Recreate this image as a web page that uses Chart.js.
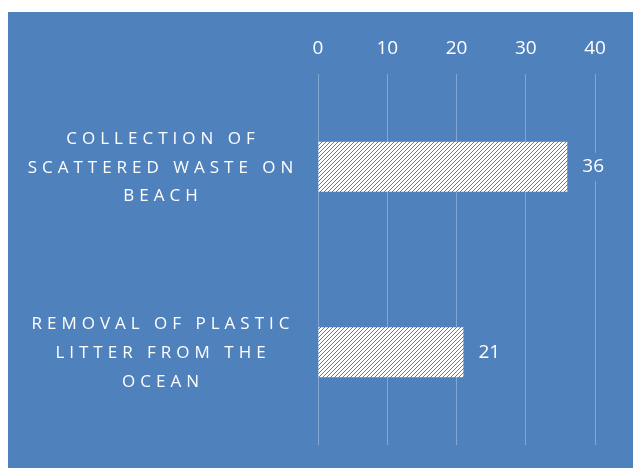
<!DOCTYPE html>
<html>
<head>
<meta charset="utf-8">
<script src="https://cdn.jsdelivr.net/npm/chart.js@4.4.1/dist/chart.umd.min.js"></script>
<style>
  html, body { margin: 0; padding: 0; background: #fff; width: 633px; height: 468px; overflow: hidden; }
  #wrap { position: absolute; left: 8px; top: 12px; width: 625px; height: 456px; background: #4f81bd; }
  canvas { display: block; }
</style>
</head>
<body>
<div id="wrap"><canvas id="chart" width="625" height="456"></canvas></div>
<script>
const categories = [
  ['COLLECTION OF', 'SCATTERED WASTE ON', 'BEACH'],
  ['REMOVAL OF PLASTIC', 'LITTER FROM THE', 'OCEAN']
];
const values = [36, 21];
const axisMin = 0;
const axisMax = 40;
const axisStep = 10;

const BLUE = '#4f81bd';
const FONT = "'Open Sans', sans-serif";

// small diagonal hatch tile, white with thin blue stripes
function hatch() {
  const c = document.createElement('canvas');
  c.width = 4; c.height = 4;
  const g = c.getContext('2d');
  g.fillStyle = '#ffffff';
  g.fillRect(0, 0, 4, 4);
  g.fillStyle = BLUE;
  for (let i = 0; i < 4; i++) g.fillRect(i, 3 - i, 1, 1);
  return g.createPattern(c, 'repeat');
}

// category axis: labels centred in the axis box, letters spaced out
class SpacedCategoryScale extends Chart.CategoryScale {
  _computeLabelItems(area) {
    const items = super._computeLabelItems(area);
    const cx = (this.left + this.right) / 2;
    items.forEach(it => {
      it.options.textAlign = 'center';
      it.options.translation = [cx, it.options.translation[1] + 1];
    });
    return items;
  }
  drawLabels(area) {
    const ctx = this.ctx;
    ctx.save();
    ctx.letterSpacing = '5px';
    super.drawLabels(area);
    ctx.restore();
  }
}
SpacedCategoryScale.id = 'spacedCategory';
SpacedCategoryScale.defaults = Chart.CategoryScale.defaults;
Chart.register(SpacedCategoryScale);

const valueLabels = {
  id: 'valueLabels',
  afterDatasetsDraw(chart) {
    const ctx = chart.ctx;
    const meta = chart.getDatasetMeta(0);
    ctx.save();
    ctx.font = '19px ' + FONT;
    ctx.textAlign = 'left';
    ctx.textBaseline = 'middle';
    meta.data.forEach((bar, i) => {
      const txt = String(values[i]);
      const w = ctx.measureText(txt).width;
      const x = bar.x + 15;
      ctx.fillStyle = BLUE;
      ctx.fillRect(x - 3, bar.y - 14, w + 6, 28);
      ctx.fillStyle = '#ffffff';
      ctx.fillText(txt, x, bar.y);
    });
    ctx.restore();
  }
};

const ctx = document.getElementById('chart').getContext('2d');
new Chart(ctx, {
  type: 'bar',
  data: {
    labels: categories,
    datasets: [{
      data: values,
      backgroundColor: hatch(),
      borderWidth: 0,
      barPercentage: 0.27,
      categoryPercentage: 1
    }]
  },
  options: {
    indexAxis: 'y',
    responsive: false,
    animation: false,
    layout: { padding: { top: 20, right: 38, bottom: 23, left: 0 } },
    plugins: { legend: { display: false }, tooltip: { enabled: false } },
    scales: {
      x: {
        position: 'top',
        min: axisMin,
        max: axisMax,
        ticks: { stepSize: axisStep, color: '#ffffff', font: { family: FONT, size: 19 }, padding: 14 },
        grid: { color: 'rgba(255,255,255,0.3)', drawTicks: false },
        border: { display: false },
        afterFit(s) { s.height = 42; s.paddingLeft = 0; s.paddingRight = 0; }
      },
      y: {
        type: 'spacedCategory',
        ticks: { color: '#ffffff', font: { family: FONT, size: 17, lineHeight: 1.7 }, padding: 0 },
        grid: { display: false, drawTicks: false },
        border: { display: false },
        afterFit(s) { s.width = 310; s.paddingTop = 0; s.paddingBottom = 0; }
      }
    }
  },
  plugins: [valueLabels]
});
</script>
</body>
</html>
